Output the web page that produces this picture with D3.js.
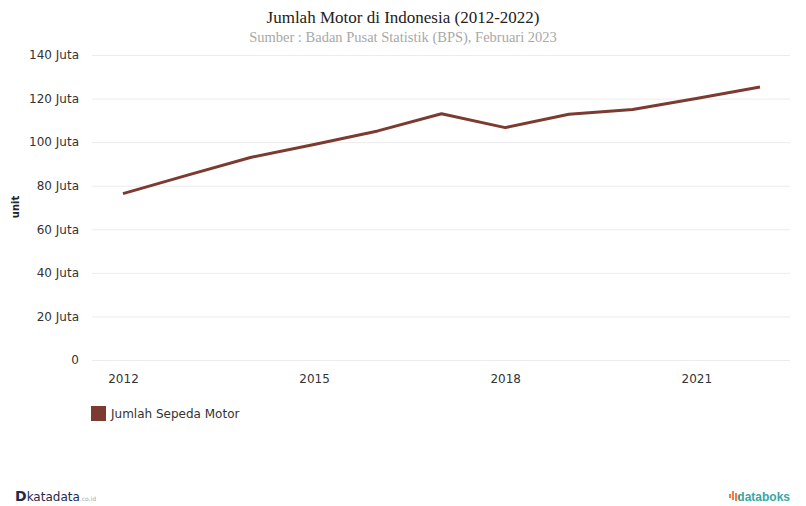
<!DOCTYPE html>
<html>
<head>
<meta charset="utf-8">
<script src="https://cdn.jsdelivr.net/npm/d3@7"></script>
<style>
  body { margin: 0; background: #fff; }
  svg { display: block; }
</style>
</head>
<body>
<svg id="chart" width="806" height="506"></svg>
<script>
// Jumlah sepeda motor (juta unit), BPS
const years = [2012, 2013, 2014, 2015, 2016, 2017, 2018, 2019, 2020, 2021, 2022];
const motorValues = [76.38, 84.73, 92.98, 98.88, 105.15, 113.03, 106.66, 112.77, 115.02, 120.04, 125.27];
const yTicks = [0, 20, 40, 60, 80, 100, 120, 140];
const xTicks = [2012, 2015, 2018, 2021];
const seriesName = 'Jumlah Sepeda Motor';
const lineColor = '#7b3b31';

const svg = d3.select('#chart');
const sans = 'DejaVu Sans, Verdana, sans-serif';
const serif = 'Liberation Serif, Times New Roman, serif';

const x = d3.scaleLinear().domain([2012, 2022]).range([123, 760]);
const y = d3.scaleLinear().domain([0, 140]).range([360, 55]);

// title
svg.append('text')
  .attr('x', 403).attr('y', 23)
  .attr('text-anchor', 'middle')
  .style('font-family', serif).style('font-size', '17px').style('fill', '#222')
  .text('Jumlah Motor di Indonesia (2012-2022)');
svg.append('text')
  .attr('x', 403).attr('y', 42)
  .attr('text-anchor', 'middle')
  .style('font-family', serif).style('font-size', '14.5px').style('fill', '#a8a8a8')
  .text('Sumber : Badan Pusat Statistik (BPS), Februari 2023');

// grid + y labels
const yAxis = d3.axisLeft(y)
  .tickValues(yTicks)
  .tickSize(-(790 - 92))
  .tickPadding(13)
  .tickFormat(d => d === 0 ? '0' : d + ' Juta');
const gy = svg.append('g').attr('transform', 'translate(92,0)').call(yAxis);
gy.select('.domain').remove();
gy.selectAll('.tick line').attr('stroke', '#ececec').attr('stroke-width', 1);
gy.selectAll('.tick text')
  .style('font-family', sans).style('font-size', '12px').style('fill', '#333');

svg.append('text')
  .attr('transform', 'translate(19,207) rotate(-90)')
  .attr('text-anchor', 'middle')
  .style('font-family', sans).style('font-size', '10px').style('font-weight', 'bold').style('fill', '#222')
  .text('unit');

// x labels
const xAxis = d3.axisBottom(x)
  .tickValues(xTicks)
  .tickSize(0)
  .tickPadding(14)
  .tickFormat(d3.format('d'));
const gx = svg.append('g').attr('transform', 'translate(0,360)').call(xAxis);
gx.select('.domain').remove();
gx.selectAll('.tick text')
  .style('font-family', sans).style('font-size', '12px').style('fill', '#333');

// line
const line = d3.line()
  .x((d, i) => x(years[i]))
  .y(d => y(d));
svg.append('path')
  .datum(motorValues)
  .attr('d', line)
  .attr('fill', 'none')
  .attr('stroke', lineColor)
  .attr('stroke-width', 3)
  .attr('stroke-linejoin', 'round');

// legend
svg.append('rect')
  .attr('x', 91).attr('y', 406).attr('width', 15).attr('height', 15)
  .attr('fill', lineColor);
svg.append('text')
  .attr('x', 111).attr('y', 418)
  .style('font-family', sans).style('font-size', '12px').style('fill', '#333')
  .text(seriesName);

// logos
const kd = svg.append('text')
  .attr('x', 15).attr('y', 501)
  .style('font-family', sans).style('font-size', '13px').style('fill', '#1f2a4d');
kd.append('tspan').style('font-weight', 'bold').style('font-size', '14px').text('D');
kd.append('tspan').style('font-size', '12px').text('katadata');
kd.append('tspan').style('font-size', '6px').style('fill', '#9aa').text('.co.id');

// small orange bars for the databoks mark
const icon = svg.append('g').attr('transform', 'translate(729,491)');
[[0, 3, 4], [3, 0, 9], [6, 2, 8], [9, 4, 4]].forEach(([dx, dy, h]) => {
  icon.append('rect').attr('x', dx).attr('y', dy).attr('width', 2).attr('height', h).attr('fill', '#f07e4a');
});
svg.append('text')
  .attr('x', 790).attr('y', 501)
  .attr('text-anchor', 'end')
  .style('font-family', 'Liberation Sans, Arial, sans-serif').style('font-size', '12px')
  .style('font-weight', 'bold').style('fill', '#3aa6a3')
  .text('databoks');
</script>
</body>
</html>
